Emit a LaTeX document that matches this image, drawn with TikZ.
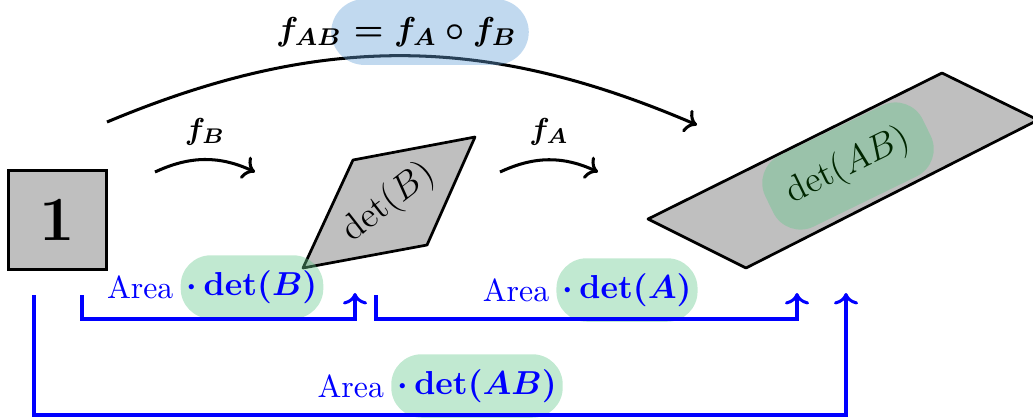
\documentclass[tikz,border=0pt]{standalone}
\usepackage{amsmath}
\usepackage{tikz}
\usetikzlibrary{arrows.meta,positioning,calc}
\definecolor{hlgreen}{RGB}{100,200,140}
\definecolor{hlblue}{RGB}{100,160,215}
\tikzset{
  unitbox/.style={draw=black, line width=1pt, fill=lightgray, minimum size=32.5pt, inner sep=0pt, font=\huge\bfseries},
  shapefill/.style={draw=black, line width=0.9pt, fill=lightgray, line join=round},
  maparrow/.style={->, line width=1pt},
  arealine/.style={->, blue, line width=1pt},
  hlgreenbox/.style={fill=hlgreen, fill opacity=0.4, text opacity=1, rounded corners=10pt, inner xsep=3pt, inner ysep=5pt},
  hlbluebox/.style={fill=hlblue, fill opacity=0.4, text opacity=1, rounded corners=11pt, inner xsep=4pt, inner ysep=6pt},
  arealabel/.style={text=blue, inner sep=1pt, font=\fontsize{10.5}{13}\selectfont}
}

\begin{document}
\begin{tikzpicture}[x=0.33pt,y=0.33pt]
\useasboundingbox (0,0) rectangle (1033,418);

% unit square
\node[unitbox] (one) at (57.5,198) {1};

% image under B
\coordinate (b1) at (303,150);
\coordinate (b2) at (427,173);
\coordinate (b3) at (475,281);
\coordinate (b4) at (353,258);
\draw[shapefill] (b1) -- (b2) -- (b3) -- (b4) -- cycle;
\node[rotate=38, font=\large] (detB) at ($(b1)!0.5!(b3)$) {$\det(B)$};

% image under AB
\coordinate (c1) at (648,199);
\coordinate (c2) at (746,150);
\coordinate (c3) at (1038,298);
\coordinate (c4) at (942,345);
\draw[shapefill] (c1) -- (c2) -- (c3) -- (c4) -- cycle;
\node[hlgreenbox, rotate=26, font=\large, text=black!85!green, inner xsep=7pt, inner ysep=7pt] (detAB) at (848,252) {$\det(AB)$};

% maps
\coordinate (fBs) at (155,246);
\coordinate (fBe) at (255,246);
\draw[maparrow] (fBs) to[bend left=25] node[above=1pt] {$\boldsymbol{f_B}$} (fBe);
\coordinate (fAs) at (500,246);
\coordinate (fAe) at (598,246);
\draw[maparrow] (fAs) to[bend left=25] node[above=1pt] {$\boldsymbol{f_A}$} (fAe);
\coordinate (fABs) at (107,296);
\coordinate (fABe) at (697,293);
\draw[maparrow] (fABs) to[bend left=23] (fABe);
\node[hlbluebox, font=\fontsize{11}{13}\selectfont] (comp) at (430,386) {$\boldsymbol{{}= f_A\circ f_B}$};
\node[inner sep=0pt, left=-4pt of comp, font=\fontsize{11}{13}\selectfont] (fAB) {$\boldsymbol{f_{AB}}$};

% area factors
\node[hlgreenbox, arealabel, inner xsep=2pt, inner ysep=5pt] (dB) at (252,131) {$\boldsymbol{\cdot\det(B)}$};
\node[arealabel, left=1pt of dB] (aB) {Area};
\node[hlgreenbox, arealabel, inner xsep=2pt, inner ysep=5pt] (dA) at (627,128) {$\boldsymbol{\cdot\det(A)}$};
\node[arealabel, left=1pt of dA] (aA) {Area};
\node[hlgreenbox, arealabel, inner xsep=2pt, inner ysep=5pt] (dAB) at (477,32) {$\boldsymbol{\cdot\det(AB)}$};
\node[arealabel, left=1pt of dAB] (aAB) {Area};

\coordinate (sB) at (82,123);
\coordinate (eB) at (355,125);
\draw[arealine] (sB) -- ++(0,-24) -| (eB);
\coordinate (sA) at (376,123);
\coordinate (eA) at (797,125);
\draw[arealine] (sA) -- ++(0,-24) -| (eA);
\coordinate (sAB) at (34,123);
\coordinate (eAB) at (846,125);
\draw[arealine] (sAB) -- ++(0,-120) -| (eAB);
\end{tikzpicture}
\end{document}
